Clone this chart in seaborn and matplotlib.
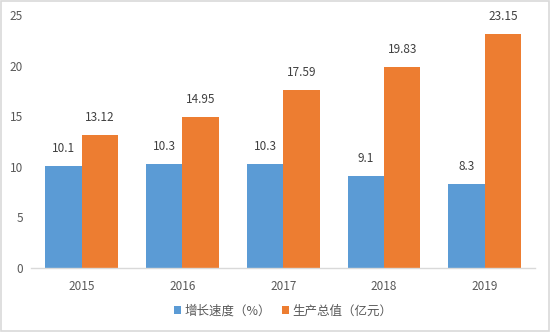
import matplotlib
matplotlib.use("Agg")
import matplotlib.pyplot as plt
import seaborn as sns
import pandas as pd

years = ["2015", "2016", "2017", "2018", "2019"]
growth = [10.1, 10.3, 10.3, 9.1, 8.3]
output = [13.12, 14.95, 17.59, 19.83, 23.15]
series_names = ["增长速度（%）", "生产总值（亿元）"]
colors = ["#5B9BD5", "#ED7D31"]

sns.set_theme(style="white")
plt.rcParams['font.family'] = ['Noto Sans CJK SC', 'DejaVu Sans']

df = pd.DataFrame({
    "year": years * 2,
    "value": growth + output,
    "series": [series_names[0]] * len(years) + [series_names[1]] * len(years),
})

fig = plt.figure(figsize=(5.5, 3.32), dpi=100)
ax = fig.add_axes([0.057, 0.193, 0.916, 0.762])
sns.barplot(data=df, x="year", y="value", hue="series", palette=colors,
            width=0.72, saturation=1, linewidth=0, edgecolor="none", ax=ax, legend=True)

for cont in ax.containers:
    ax.bar_label(cont, labels=[f"{v:g}" for v in cont.datavalues], padding=8,
                 fontsize=8.5, color="#404040")

ax.set_ylim(0, 25)
ax.set_yticks([0, 5, 10, 15, 20, 25])
ax.set_xlim(-0.5, 4.5)
ax.set_xlabel("")
ax.set_ylabel("")
for s in ["top", "right", "left"]:
    ax.spines[s].set_visible(False)
ax.spines["bottom"].set_color("#D9D9D9")
ax.spines["bottom"].set_linewidth(1)
ax.tick_params(axis="both", length=0, labelsize=8.5, colors="#595959", pad=6)
ax.tick_params(axis="x", pad=9)

handles, labels = ax.get_legend_handles_labels()
ax.legend(handles, labels, loc="center", bbox_to_anchor=(0.5, -0.17), ncol=2,
          frameon=False, fontsize=9, handlelength=0.6, handleheight=0.6,
          handletextpad=0.3, columnspacing=0.8, labelcolor="#595959")

fig.patches.append(plt.Rectangle((0.001, 0.002), 0.997, 0.995, transform=fig.transFigure,
                                 fill=False, edgecolor="#D9D9D9", linewidth=1.2))
fig.savefig("out.png", dpi=100)
